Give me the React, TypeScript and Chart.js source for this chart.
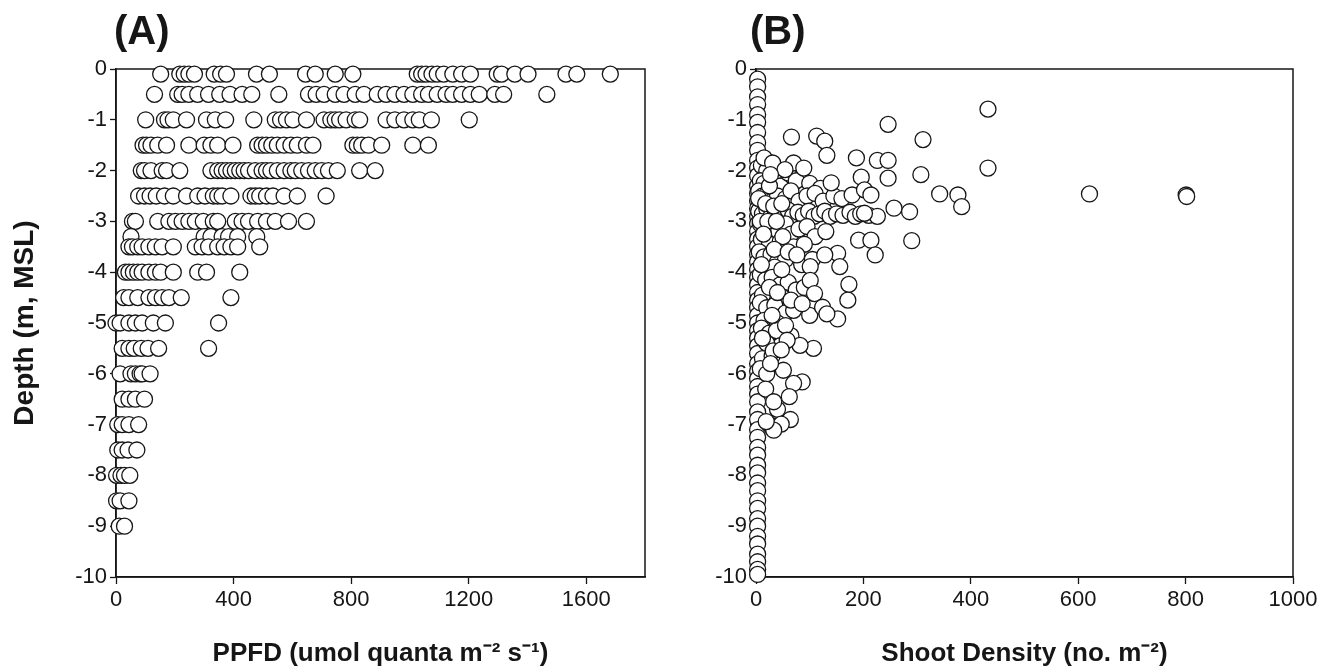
import React, { useEffect, useRef } from "react";
import { Chart, registerables } from "chart.js";

Chart.register(...registerables);

const FONT = "'Liberation Sans', Arial, Helvetica, sans-serif";
const INK = "#161616";

// ---------- Panel A : PPFD vs depth ----------
const ppfdTickStep = 400;
const ppfdMax = 1800;
const depthMin = -10;
const depthMax = 0;

const rowDepthsA = [-0.1, -0.5, -1, -1.5, -2, -2.5, -3, -3.3, -3.5, -4, -4.5, -5, -5.5, -6, -6.5, -7, -7.5, -8, -8.5, -9];

const ppfdRows = [
  [152, 217, 232, 248, 267, 334, 356, 376, 478, 522, 645, 678, 746, 806, 1025, 1040, 1055, 1075, 1093, 1115, 1146, 1176, 1206, 1297, 1312, 1357, 1402, 1531, 1568, 1682],
  [131, 210, 225, 248, 278, 315, 353, 388, 429, 462, 554, 655, 681, 708, 746, 776, 814, 844, 889, 919, 949, 980, 1010, 1040, 1063, 1093, 1123, 1146, 1176, 1206, 1236, 1289, 1319, 1466],
  [101, 165, 177, 195, 240, 308, 338, 373, 469, 542, 560, 580, 602, 648, 708, 731, 746, 761, 783, 814, 829, 919, 949, 980, 1010, 1032, 1073, 1202],
  [92, 104, 119, 142, 172, 248, 300, 323, 346, 398, 482, 497, 512, 530, 549, 572, 595, 617, 648, 670, 806, 821, 836, 859, 904, 1010, 1063],
  [86, 97, 119, 157, 172, 217, 323, 346, 361, 376, 391, 406, 421, 436, 451, 474, 497, 512, 527, 549, 572, 595, 610, 632, 655, 678, 700, 723, 753, 829, 882],
  [77, 97, 116, 137, 165, 195, 240, 278, 303, 331, 346, 361, 391, 459, 474, 489, 512, 534, 572, 617, 715],
  [56, 66, 142, 180, 202, 225, 248, 270, 297, 331, 346, 406, 429, 451, 482, 512, 542, 587, 648],
  [51, 300, 323, 361, 383, 414, 479],
  [44, 56, 74, 89, 112, 134, 157, 195, 270, 293, 315, 346, 368, 391, 414, 489],
  [32, 44, 59, 74, 89, 112, 134, 152, 195, 278, 308, 421],
  [26, 44, 74, 112, 134, 157, 180, 222, 391],
  [0, 14, 44, 66, 89, 127, 168, 349],
  [21, 44, 62, 86, 109, 145, 315],
  [14, 51, 66, 82, 89, 116],
  [21, 44, 66, 97],
  [6, 21, 44, 77],
  [6, 21, 41, 71],
  [2, 17, 29, 47],
  [2, 14, 44],
  [11, 29],
];

// ---------- Panel B : shoot density vs depth ----------
const shootTickStep = 200;
const shootMax = 1000;

// circles stacked along the zero-density column
const columnDensityB = 3;
const columnDepthsB = [
  -0.2, -0.35, -0.55, -0.7, -0.9, -1.05, -1.25, -1.45, -1.6, -1.8,
  -1.95, -2.1, -2.3, -2.45, -2.6, -2.75, -2.9, -3.05, -3.2, -3.35,
  -3.5, -3.65, -3.8, -3.95, -4.1, -4.25, -4.4, -4.55, -4.7, -4.85,
  -5.0, -5.15, -5.3, -5.45, -5.6, -5.8, -5.95, -6.1, -6.25, -6.4,
  -6.55, -6.75, -6.9, -7.1, -7.25, -7.45, -7.6, -7.8, -7.95, -8.15,
  -8.3, -8.5, -8.65, -8.85, -9.0, -9.2, -9.35, -9.55, -9.7, -9.85, -9.95,
];

const densityB = [
  10, 20, 8, 15, 35, 45, 60, 75, 100, 120,
  5, 12, 22, 30, 40, 55, 65, 80, 95, 110, 125, 145, 160,
  5, 12, 20, 28, 36, 44, 52, 60, 68, 78, 88, 98, 108, 118, 128, 138, 150, 162, 175, 185, 195, 210,
  8, 18, 30, 42, 55, 65, 80, 95, 110, 130, 10, 25, 45, 70, 90,
  6, 15, 28, 40, 55, 85, 105, 20, 35,
  8, 18, 30, 45, 60, 75, 90, 12, 50,
  8, 20, 35, 55, 70, 100, 15, 40,
  10, 25, 38, 65, 45, 20,
  12, 30, 8, 20,
  15, 25, 40, 5, 18, 33, 48, 8, 22, 38,
  14, 50, 34, 60, 10, 48, 25, 40, 65, 30,
  55, 12, 32, 18, 40, 25,
  432, 246, 66, 113, 128, 311, 132, 187, 226, 246,
  432, 31, 70, 89, 54, 27, 196, 246, 307, 140,
  179, 202, 214, 342, 376, 383, 621, 801, 802, 257,
  286, 226, 202, 191, 214, 222, 290, 152, 156, 128,
  101, 76, 101, 173, 171, 109, 124, 152, 132, 86,
  107, 82, 58, 47, 51, 86, 70, 62, 33, 64,
  47, 33, 19, 27,
];

const depthB = [
  -1.9, -2.0, -2.2, -2.25, -2.15, -2.3, -2.05, -2.2, -2.25, -2.35,
  -2.4, -2.5, -2.45, -2.6, -2.5, -2.55, -2.4, -2.6, -2.5, -2.45, -2.6, -2.5, -2.55,
  -2.8, -2.85, -2.75, -2.9, -2.8, -2.95, -2.85, -2.78, -2.9, -2.82, -2.88, -2.8, -2.9, -2.85, -2.8, -2.9, -2.85, -2.88, -2.82, -2.9, -2.85, -2.88,
  -3.05, -3.15, -3.1, -3.2, -3.05, -3.25, -3.15, -3.1, -3.3, -3.2, -3.35, -3.45, -3.4, -3.5, -3.45,
  -3.6, -3.7, -3.65, -3.8, -3.75, -3.85, -3.75, -3.95, -3.9,
  -4.05, -4.15, -4.1, -4.25, -4.2, -4.35, -4.3, -4.45, -4.5,
  -4.6, -4.7, -4.65, -4.8, -4.75, -4.85, -4.95, -5.0,
  -5.1, -5.2, -5.15, -5.25, -5.45, -5.4,
  -5.7, -5.65, -5.9, -6.0,
  -1.75, -2.3, -2.0, -2.55, -2.65, -2.7, -2.65, -3.0, -3.0, -3.0,
  -3.25, -3.3, -3.55, -3.6, -3.85, -3.95, -4.3, -4.4, -4.55, -4.85,
  -5.05, -5.3, -5.55, -6.3, -6.7, -7.0,
  -0.79, -1.09, -1.34, -1.32, -1.42, -1.39, -1.7, -1.75, -1.8, -1.8,
  -1.95, -1.85, -1.85, -1.95, -1.98, -2.08, -2.13, -2.15, -2.08, -2.24,
  -2.48, -2.38, -2.48, -2.46, -2.48, -2.71, -2.46, -2.48, -2.51, -2.74,
  -2.81, -2.9, -2.84, -3.37, -3.37, -3.66, -3.38, -3.63, -3.89, -3.66,
  -3.89, -3.66, -4.16, -4.24, -4.55, -4.42, -4.69, -4.92, -4.82, -4.62,
  -5.5, -5.44, -5.34, -5.53, -5.93, -6.16, -6.19, -6.45, -6.55, -6.9,
  -6.99, -7.11, -6.94, -5.8,
];

// ---------- helpers ----------
const framePlugin = {
  id: "frame",
  beforeDatasetsDraw(chart: any) {
    const { ctx, chartArea } = chart;
    const { left, top, right, bottom } = chartArea;
    ctx.save();
    ctx.strokeStyle = INK;
    ctx.lineWidth = 1.5;
    ctx.strokeRect(left, top, right - left, bottom - top);
    ctx.restore();
  },
};

const plainLabel = (v: any) => String(v);

function makeOptions(xMax: number, xStep: number, xTitle: string, yWidth: number, yTitle: string | null, rightPad: number) {
  return {
    animation: false,
    responsive: false,
    events: [],
    layout: { padding: { top: 69, right: rightPad, bottom: 0, left: 0 } },
    plugins: { legend: { display: false }, tooltip: { enabled: false } },
    scales: {
      x: {
        type: "linear",
        position: "bottom",
        min: 0,
        max: xMax,
        ticks: {
          stepSize: xStep,
          includeBounds: false,
          color: INK,
          font: { size: 22, family: FONT },
          padding: 3,
          maxRotation: 0,
          callback: plainLabel,
        },
        grid: { drawOnChartArea: false, drawTicks: true, tickLength: 7, tickColor: INK, tickWidth: 1.3 },
        border: { color: INK, width: 1.5 },
        title: {
          display: true,
          text: xTitle,
          color: INK,
          font: { size: 26, weight: "bold", family: FONT },
          padding: { top: 0, bottom: 3 },
        },
        afterFit: (s: any) => {
          s.height = 95;
        },
      },
      y: {
        type: "linear",
        min: depthMin,
        max: depthMax,
        ticks: {
          stepSize: 1,
          color: INK,
          font: { size: 22, family: FONT },
          padding: 3,
          callback: plainLabel,
        },
        grid: { drawOnChartArea: false, drawTicks: true, tickLength: 6, tickColor: INK, tickWidth: 1.3 },
        border: { color: INK, width: 1.5 },
        title: {
          display: !!yTitle,
          text: yTitle || "",
          color: INK,
          font: { size: 28, weight: "bold", family: FONT },
          padding: { top: 8, bottom: 0 },
        },
        afterFit: (s: any) => {
          s.width = yWidth;
        },
      },
    },
  };
}

function dataset(points: { x: number; y: number }[]) {
  return {
    data: points,
    pointRadius: 8,
    pointHoverRadius: 8,
    pointBorderColor: INK,
    pointBackgroundColor: "#ffffff",
    pointBorderWidth: 1.3,
    showLine: false,
    clip: false,
  };
}

export default function App() {
  const refA = useRef<HTMLCanvasElement | null>(null);
  const refB = useRef<HTMLCanvasElement | null>(null);

  useEffect(() => {
    const pointsA: { x: number; y: number }[] = [];
    rowDepthsA.forEach((d, i) => {
      ppfdRows[i].forEach((v) => pointsA.push({ x: v, y: d }));
    });

    const pointsB: { x: number; y: number }[] = [];
    columnDepthsB.forEach((d) => pointsB.push({ x: columnDensityB, y: d }));
    densityB.forEach((v, i) => pointsB.push({ x: v, y: depthB[i] }));

    const chartA = new Chart(refA.current as HTMLCanvasElement, {
      type: "scatter",
      data: { datasets: [dataset(pointsA)] },
      options: makeOptions(ppfdMax, ppfdTickStep, "PPFD (umol quanta m\u207B\u00B2 s\u207B\u00B9)", 116, "Depth (m, MSL)", 35) as any,
      plugins: [framePlugin],
    } as any);

    const chartB = new Chart(refB.current as HTMLCanvasElement, {
      type: "scatter",
      data: { datasets: [dataset(pointsB)] },
      options: makeOptions(shootMax, shootTickStep, "Shoot Density (no. m\u207B\u00B2)", 90, null, 39) as any,
      plugins: [framePlugin],
    } as any);

    return () => {
      chartA.destroy();
      chartB.destroy();
    };
  }, []);

  const labelStyle: React.CSSProperties = {
    position: "absolute",
    top: 7,
    fontFamily: FONT,
    fontWeight: "bold",
    fontSize: 40,
    lineHeight: "46px",
    color: INK,
  };

  return (
    <div style={{ position: "absolute", left: 0, top: 0, width: 1332, height: 672, background: "#fff" }}>
      <canvas ref={refA} width={680} height={672} style={{ position: "absolute", left: 0, top: 0, width: 680, height: 672 }} />
      <canvas ref={refB} width={666} height={672} style={{ position: "absolute", left: 666, top: 0, width: 666, height: 672 }} />
      <div style={{ ...labelStyle, left: 114 }}>(A)</div>
      <div style={{ ...labelStyle, left: 750 }}>(B)</div>
    </div>
  );
}
